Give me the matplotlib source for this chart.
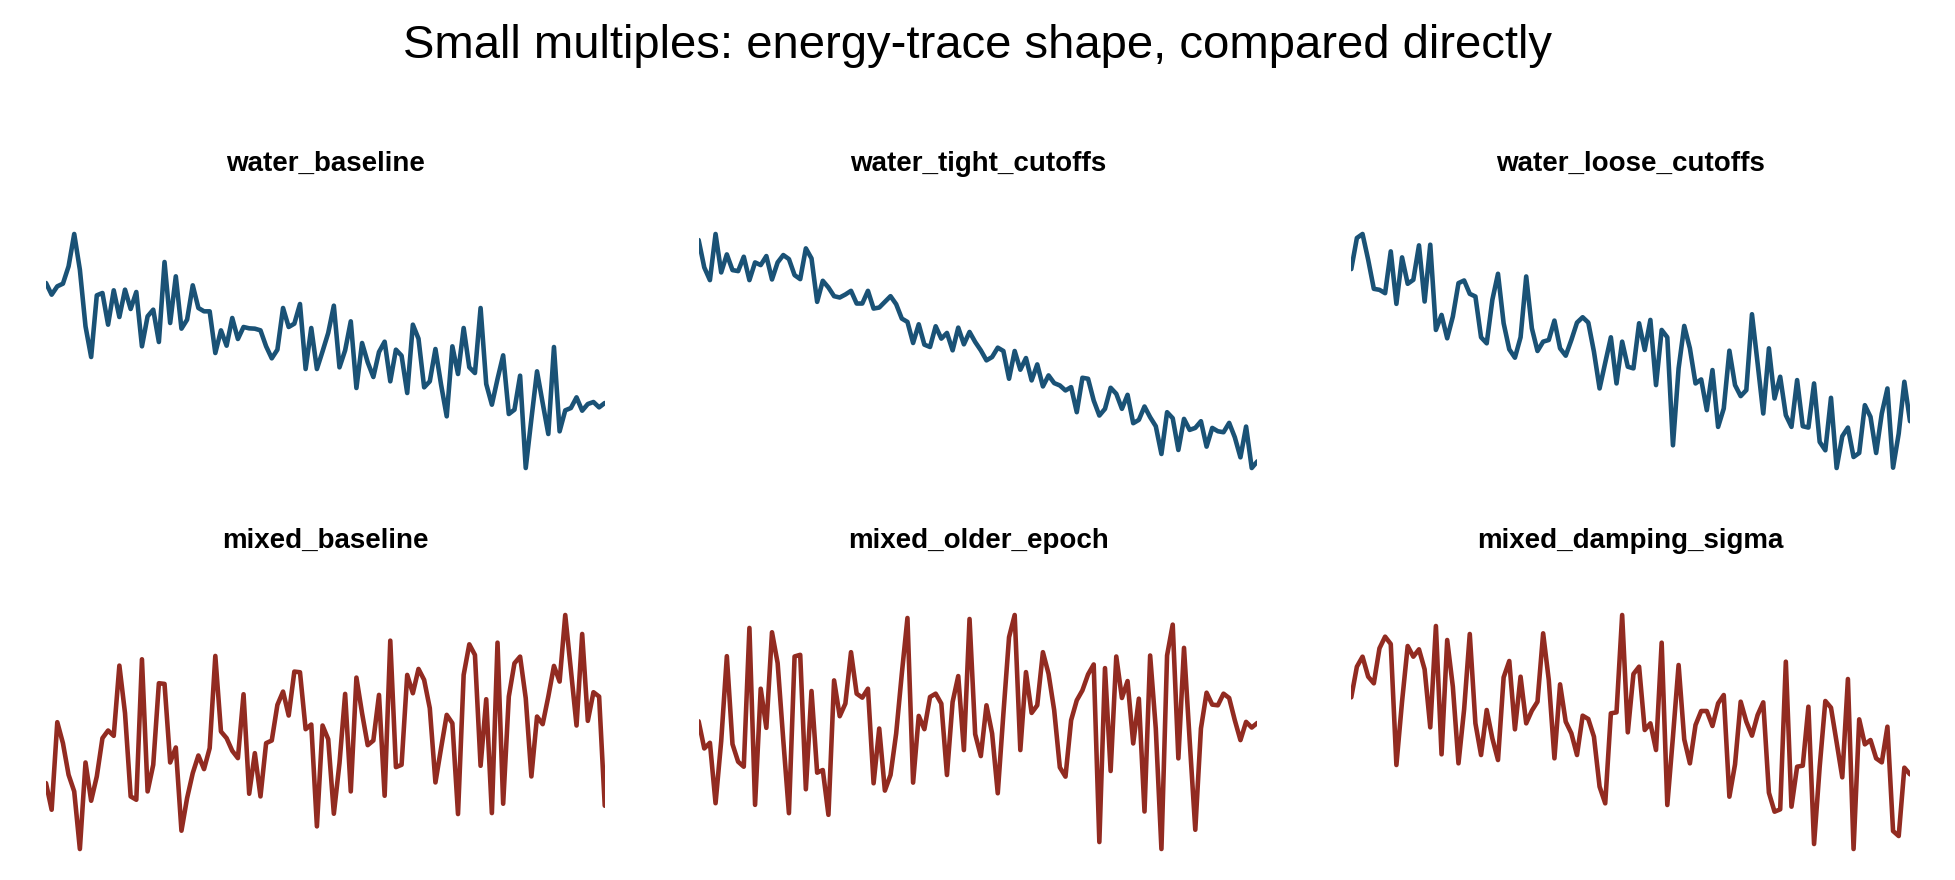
import matplotlib
matplotlib.use("Agg")
import matplotlib.pyplot as plt

plt.rcParams["font.family"] = ["Liberation Sans", "DejaVu Sans"]

# trace heights (arbitrary units, higher = higher energy)
WATER_BASELINE = [
    570, 535, 560, 568, 620, 717, 610, 440, 348, 533,
    540, 445, 548, 468, 550, 492, 543, 380, 470, 490,
    393, 633, 450, 590, 433, 460, 563, 495, 485, 485,
    360, 428, 382, 465, 402, 438, 434, 433, 428, 380,
    344, 370, 495, 438, 448, 507, 312, 435, 312, 365,
    420, 502, 317, 368, 455, 255, 390, 332, 288, 363,
    394, 275, 370, 352, 240, 445, 403, 257, 275, 372,
    265, 170, 380, 297, 435, 317, 300, 495, 267, 205,
    282, 353, 177, 190, 292, 15, 162, 305, 210, 117,
    378, 125, 188, 195, 227, 187, 207, 213, 197, 210,
]
WATER_TIGHT = [
    700, 618, 580, 718, 603, 657, 610, 607, 650, 580,
    633, 625, 652, 582, 633, 655, 643, 595, 583, 675,
    645, 515, 578, 558, 532, 528, 537, 548, 510, 510,
    548, 495, 498, 515, 532, 508, 465, 455, 392, 448,
    387, 380, 442, 405, 422, 370, 438, 388, 425, 395,
    370, 340, 350, 378, 368, 285, 368, 312, 347, 280,
    328, 262, 295, 272, 265, 250, 260, 185, 288, 285,
    220, 175, 195, 258, 240, 195, 237, 152, 162, 202,
    170, 143, 60, 185, 167, 72, 165, 132, 138, 158,
    82, 138, 128, 125, 153, 110, 50, 142, 18, 38,
]
WATER_LOOSE = [
    612, 705, 717, 640, 553, 550, 540, 665, 508, 647,
    568, 580, 683, 515, 685, 430, 475, 405, 470, 570,
    578, 538, 530, 408, 390, 520, 598, 450, 372, 347,
    408, 590, 435, 367, 395, 400, 458, 375, 353, 400,
    452, 468, 452, 365, 255, 332, 408, 270, 395, 320,
    315, 450, 370, 460, 265, 430, 408, 85, 315, 442,
    375, 270, 282, 190, 310, 140, 195, 368, 265, 232,
    250, 477, 330, 180, 375, 225, 290, 175, 140, 280,
    142, 138, 270, 95, 70, 227, 17, 112, 138, 50,
    62, 205, 170, 62, 180, 255, 18, 120, 275, 157,
]
MIXED_BASELINE = [
    210, 130, 393, 330, 235, 185, 12, 272, 157, 230,
    345, 368, 352, 563, 420, 170, 160, 582, 185, 265,
    510, 508, 272, 317, 67, 165, 240, 293, 252, 315,
    592, 365, 345, 307, 285, 477, 178, 300, 170, 330,
    338, 445, 485, 413, 545, 543, 372, 386, 80, 383,
    342, 118, 270, 478, 185, 527, 420, 324, 338, 475,
    172, 638, 258, 265, 535, 480, 553, 520, 435, 212,
    315, 415, 390, 117, 535, 627, 595, 262, 462, 120,
    632, 148, 470, 570, 590, 465, 230, 410, 387, 470,
    562, 515, 715, 550, 383, 658, 397, 483, 470, 142,
]
MIXED_OLDER = [
    397, 315, 332, 150, 337, 593, 328, 275, 260, 678,
    145, 495, 377, 665, 572, 340, 120, 592, 597, 192,
    488, 242, 250, 115, 520, 412, 450, 605, 480, 468,
    495, 210, 375, 188, 235, 360, 540, 708, 212, 413,
    373, 470, 480, 450, 235, 455, 533, 310, 705, 358,
    292, 445, 360, 180, 420, 650, 717, 310, 545, 422,
    445, 605, 540, 430, 258, 230, 400, 460, 490, 538,
    568, 33, 557, 247, 592, 467, 518, 330, 465, 125,
    595, 375, 12, 595, 688, 285, 618, 340, 70, 375,
    483, 447, 445, 480, 467, 400, 340, 395, 378, 392,
]
MIXED_DAMPING = [
    468, 560, 590, 530, 510, 615, 650, 628, 265, 455,
    622, 590, 612, 552, 378, 682, 297, 640, 500, 270,
    432, 658, 390, 295, 430, 345, 280, 528, 577, 372,
    530, 390, 428, 455, 660, 520, 285, 507, 395, 360,
    295, 413, 403, 350, 200, 150, 420, 423, 715, 363,
    538, 560, 370, 390, 310, 632, 145, 350, 565, 342,
    270, 385, 427, 427, 382, 450, 475, 170, 267, 455,
    395, 353, 415, 453, 182, 125, 132, 575, 140, 260,
    263, 440, 28, 260, 457, 437, 333, 228, 523, 13,
    402, 327, 340, 285, 273, 380, 67, 52, 257, 237,
]

RUNS = [
    "water_baseline", "water_tight_cutoffs", "water_loose_cutoffs",
    "mixed_baseline", "mixed_older_epoch", "mixed_damping_sigma",
]
TRACES = [WATER_BASELINE, WATER_TIGHT, WATER_LOOSE,
          MIXED_BASELINE, MIXED_OLDER, MIXED_DAMPING]
WATER_COLOR = "#1a5276"
MIXED_COLOR = "#922b21"

fig, axes = plt.subplots(2, 3, figsize=(19.56, 8.8), dpi=100)
fig.subplots_adjust(left=46 / 1956, right=1910 / 1956,
                    top=0.7474, bottom=0.0219, wspace=0.168, hspace=0.48)

for i, (ax, name, trace) in enumerate(zip(axes.flat, RUNS, TRACES)):
    color = WATER_COLOR if name.startswith("water") else MIXED_COLOR
    ax.plot(range(len(trace)), trace, color=color, linewidth=3.3,
            solid_capstyle="round")
    ax.margins(x=0, y=0.05)
    # first row title sits a little closer to its trace
    ax.set_title(name, fontsize=20, fontweight="bold", pad=37 if i < 3 else 40)
    ax.set_axis_off()

fig.text(0.5, 1 - 58 / 880, "Small multiples: energy-trace shape, compared directly",
         ha="center", va="baseline", fontsize=34)

fig.savefig("out.png", dpi=100)
